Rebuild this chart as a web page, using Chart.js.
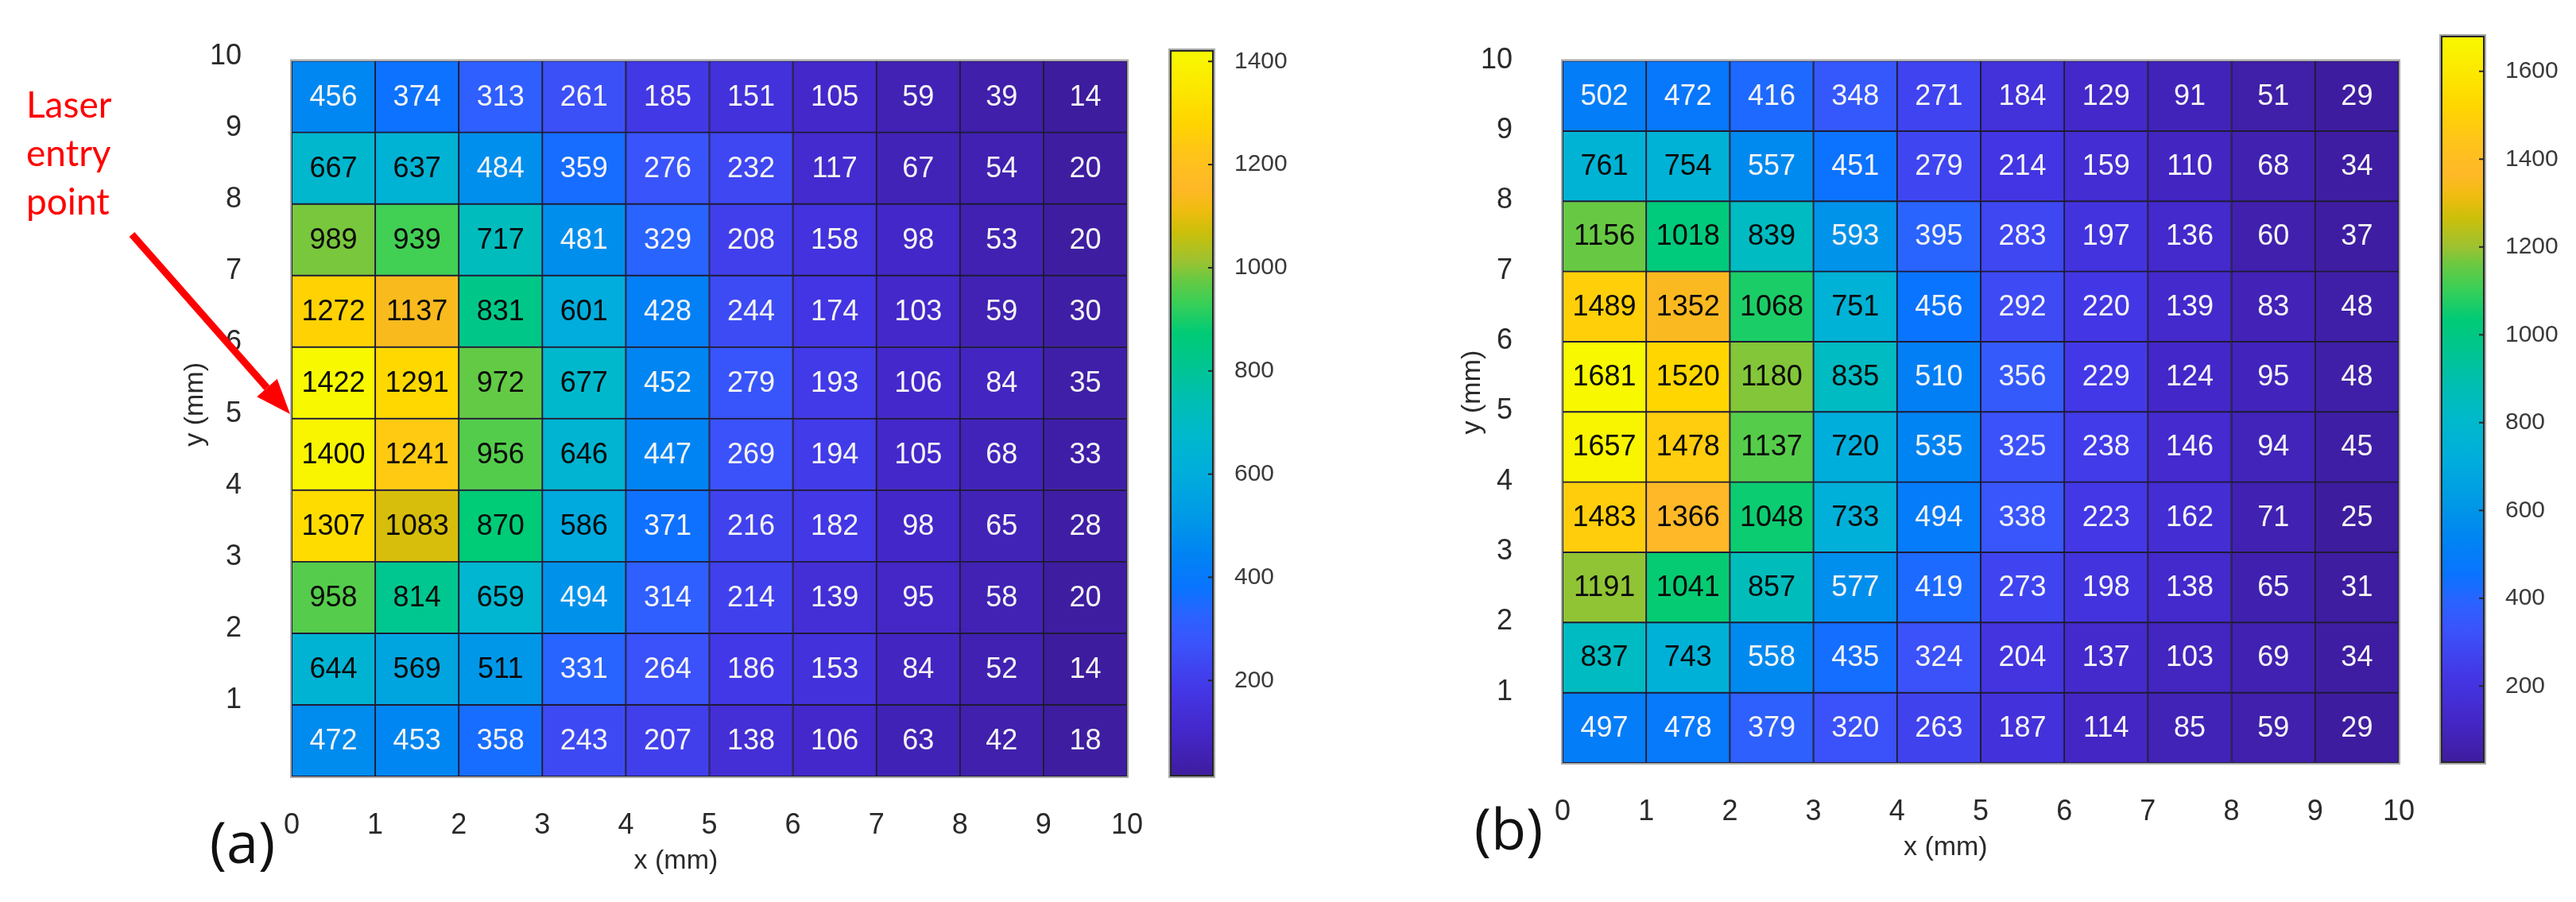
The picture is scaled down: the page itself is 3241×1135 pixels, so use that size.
<!DOCTYPE html>
<html><head><meta charset="utf-8">
<script src="https://cdn.jsdelivr.net/npm/chart.js@4.4.1/dist/chart.umd.min.js"></script>
<style>
html,body{margin:0;padding:0;background:#fff;width:3241px;height:1135px;overflow:hidden;}
canvas{position:absolute;top:0;display:block;}
#chA{left:0px} #cbA{left:1462px} #chB{left:1560px} #cbB{left:3062px}
</style></head><body>
<canvas id="chA" width="1470" height="1135"></canvas>
<canvas id="cbA" width="200" height="1135"></canvas>
<canvas id="chB" width="1510" height="1135"></canvas>
<canvas id="cbB" width="179" height="1135"></canvas>
<script>
// ---------- data ----------
const xTickValues = [0,1,2,3,4,5,6,7,8,9,10];
const yTickValues = [0,1,2,3,4,5,6,7,8,9,10];
// cell values, rows listed from top (y 9-10 mm) to bottom (y 0-1 mm), columns x 0-1 ... 9-10 mm
const valuesA = [
  [456,374,313,261,185,151,105,59,39,14],
  [667,637,484,359,276,232,117,67,54,20],
  [989,939,717,481,329,208,158,98,53,20],
  [1272,1137,831,601,428,244,174,103,59,30],
  [1422,1291,972,677,452,279,193,106,84,35],
  [1400,1241,956,646,447,269,194,105,68,33],
  [1307,1083,870,586,371,216,182,98,65,28],
  [958,814,659,494,314,214,139,95,58,20],
  [644,569,511,331,264,186,153,84,52,14],
  [472,453,358,243,207,138,106,63,42,18]
];
const valuesB = [
  [502,472,416,348,271,184,129,91,51,29],
  [761,754,557,451,279,214,159,110,68,34],
  [1156,1018,839,593,395,283,197,136,60,37],
  [1489,1352,1068,751,456,292,220,139,83,48],
  [1681,1520,1180,835,510,356,229,124,95,48],
  [1657,1478,1137,720,535,325,238,146,94,45],
  [1483,1366,1048,733,494,338,223,162,71,25],
  [1191,1041,857,577,419,273,198,138,65,31],
  [837,743,558,435,324,204,137,103,69,34],
  [497,478,379,320,263,187,114,85,59,29]
];
const colorbarTicksA = [200,400,600,800,1000,1200,1400];
const colorbarTicksB = [200,400,600,800,1000,1200,1400,1600];
const panelLabels = ['(a)','(b)'];
const axisTitleX = 'x (mm)';
const axisTitleY = 'y (mm)';
const annotationLines = ['Laser','entry','point'];

// ---------- colormap (parula-like, as in the figure) ----------
const cmap = [
  [0.00,'#3E1C9E'],[0.06,'#4427C8'],[0.12,'#4337E6'],[0.18,'#3B52FA'],[0.22,'#2C62FF'],
  [0.26,'#0974FF'],[0.31,'#0085F2'],[0.36,'#009AE6'],[0.42,'#00AEDB'],[0.47,'#00B8CC'],
  [0.52,'#00BFB2'],[0.57,'#00C68E'],[0.61,'#00CB76'],[0.655,'#3ECF55'],[0.685,'#6AC942'],
  [0.71,'#9DC230'],[0.75,'#CCBF0A'],[0.78,'#F0BC10'],[0.81,'#FFB828'],[0.86,'#FFC518'],
  [0.90,'#FFD500'],[0.95,'#FCE800'],[1.00,'#F8F900']
];
function hexRgb(h){return [parseInt(h.slice(1,3),16),parseInt(h.slice(3,5),16),parseInt(h.slice(5,7),16)];}
function cmapColor(t){
  t=Math.max(0,Math.min(1,t));
  for(let i=1;i<cmap.length;i++){
    if(t<=cmap[i][0]){
      const a=cmap[i-1],b=cmap[i];const f=(t-a[0])/(b[0]-a[0]);
      const ca=hexRgb(a[1]),cb=hexRgb(b[1]);
      return 'rgb('+ca.map((v,k)=>Math.round(v+(cb[k]-v)*f)).join(',')+')';
    }
  }
  return cmap[cmap.length-1][1];
}
function rangeOf(rows){const f=rows.flat();return [Math.min(...f),Math.max(...f)];}

const TICK_FONT={family:'"Liberation Sans", Arial, sans-serif',size:36};
const TICK_COLOR='#2a2a2a';

function cellData(rows){
  const out=[];const n=rows.length;
  rows.forEach((row,r)=>row.forEach((v,c)=>{out.push({x:c+0.5,y:[n-1-r,n-r],v:v});}));
  return out;
}

const cellText={
  id:'cellText',
  afterDatasetsDraw(chart){
    const o=chart.options.plugins.cellText;const ctx=chart.ctx;
    const xs=chart.scales.x,ys=chart.scales.y;
    ctx.save();
    ctx.font='36px "Liberation Sans", Arial, sans-serif';
    ctx.textAlign='center';ctx.textBaseline='middle';
    chart.data.datasets[0].data.forEach(d=>{
      const t=(d.v-o.vmin)/(o.vmax-o.vmin);
      ctx.fillStyle=t>0.347?'#0a0a0a':'#f4f4f4';
      ctx.fillText(String(d.v),xs.getPixelForValue(d.x),ys.getPixelForValue((d.y[0]+d.y[1])/2)+1);
    });
    const a=chart.chartArea;
    ctx.strokeStyle='#a8a8a8';ctx.lineWidth=2;
    ctx.strokeRect(a.left-1,a.top-1,a.right-a.left+2,a.bottom-a.top+2);
    // axis titles and panel label
    ctx.fillStyle=TICK_COLOR;
    ctx.font='34px "Liberation Sans", Arial, sans-serif';
    const w=a.right-a.left,h=a.bottom-a.top;
    ctx.fillText(axisTitleX,a.left+o.xTitle[0]*w,a.bottom+o.xTitle[1]);
    ctx.save();ctx.translate(a.left-o.yTitle[0],a.top+o.yTitle[1]*h);ctx.rotate(-Math.PI/2);
    ctx.fillText(axisTitleY,0,0);ctx.restore();
    ctx.fillStyle='#111';
    ctx.font='72px "Open Sans", sans-serif';
    ctx.fillText(o.panel,a.left-o.panelPos[0],a.bottom+o.panelPos[1]);
    if(o.laser){
      ctx.fillStyle='#FF0000';ctx.textAlign='left';ctx.textBaseline='alphabetic';
      ctx.font='46px Lato, sans-serif';
      annotationLines.forEach((s,i)=>ctx.fillText(s,33,148+i*61));
      // arrow
      const x0=166,y0=295,x1=365,y1=521;
      const ang=Math.atan2(y1-y0,x1-x0);const hl=44,hw=17;
      const bx=x1-hl*Math.cos(ang),by=y1-hl*Math.sin(ang);
      ctx.strokeStyle='#FF0000';ctx.lineWidth=9;ctx.lineCap='butt';
      ctx.beginPath();ctx.moveTo(x0,y0);ctx.lineTo(bx,by);ctx.stroke();
      ctx.beginPath();ctx.moveTo(x1,y1);
      ctx.lineTo(bx+hw*Math.sin(ang),by-hw*Math.cos(ang));
      ctx.lineTo(bx-hw*Math.sin(ang),by+hw*Math.cos(ang));
      ctx.closePath();ctx.fill();
    }
    ctx.restore();
  }
};

function heatmap(id,rows,geom,extra){
  const [vmin,vmax]=rangeOf(rows);
  return new Chart(document.getElementById(id),{
    type:'bar',
    data:{datasets:[{
      data:cellData(rows),
      backgroundColor:c=>cmapColor((c.raw.v-vmin)/(vmax-vmin)),
      borderColor:'#1f1b36',borderWidth:1.3,borderSkipped:false,
      barPercentage:1,categoryPercentage:1
    }]},
    options:{
      responsive:false,animation:false,devicePixelRatio:1,events:[],
      layout:{padding:{left:0,top:geom.top,right:geom.right,bottom:0}},
      plugins:{legend:{display:false},tooltip:{enabled:false},
        cellText:Object.assign({vmin,vmax},extra)},
      scales:{
        x:{type:'linear',min:0,max:10,offset:false,
           afterBuildTicks:s=>{s.ticks=xTickValues.map(v=>({value:v}));},
           ticks:{padding:32,font:TICK_FONT,color:TICK_COLOR,maxRotation:0,autoSkip:false,callback:v=>String(v)},
           grid:{display:false,offset:false},border:{display:false},
           afterFit:s=>{s.height=geom.xh;}},
        y:{type:'linear',min:0,max:10,
           afterBuildTicks:s=>{s.ticks=yTickValues.map(v=>({value:v}));},
           ticks:{padding:55,labelOffset:geom.yLabelOffset,font:TICK_FONT,color:TICK_COLOR,callback:v=>v===0?'':String(v)},
           grid:{display:false},border:{display:false},
           afterFit:s=>{s.width=geom.yw;}}
      }
    },
    plugins:[cellText]
  });
}

const colorbarDraw={
  id:'colorbarDraw',
  beforeDraw(chart){
    const ys=chart.scales.y,a=chart.chartArea,ctx=chart.ctx;
    const o=chart.options.plugins.colorbarDraw;
    const g=ctx.createLinearGradient(0,ys.getPixelForValue(o.vmin),0,ys.getPixelForValue(o.vmax));
    cmap.forEach(s=>g.addColorStop(s[0],s[1]));
    ctx.save();ctx.fillStyle=g;ctx.fillRect(a.left,a.top,a.right-a.left,a.bottom-a.top);
    ctx.strokeStyle='#a8a8a8';ctx.lineWidth=2;
    ctx.strokeRect(a.left-1,a.top-1,a.right-a.left+2,a.bottom-a.top+2);
    ctx.strokeStyle='#262626';ctx.lineWidth=2;
    ctx.strokeRect(a.left+1,a.top+1,a.right-a.left-2,a.bottom-a.top-2);
    ys.ticks.forEach(t=>{const y=ys.getPixelForValue(t.value);
      ctx.beginPath();ctx.moveTo(a.right-7,y);ctx.lineTo(a.right,y);ctx.stroke();});
    ctx.restore();
  }
};

function colorbar(id,rows,tickList,geom){
  const [vmin,vmax]=rangeOf(rows);
  return new Chart(document.getElementById(id),{
    type:'bar',data:{datasets:[]},
    options:{
      responsive:false,animation:false,devicePixelRatio:1,events:[],
      layout:{padding:{left:geom.left,top:geom.top,right:0,bottom:geom.bottom}},
      plugins:{legend:{display:false},tooltip:{enabled:false},colorbarDraw:{vmin,vmax}},
      scales:{
        x:{type:'linear',display:false},
        y:{type:'linear',position:'right',min:vmin,max:vmax,
           afterBuildTicks:s=>{s.ticks=tickList.map(v=>({value:v}));},
           ticks:{padding:18,font:{family:'"Liberation Sans", Arial, sans-serif',size:30},color:'#3a3a3a',callback:v=>String(v)},
           grid:{display:false},border:{display:false},
           afterFit:s=>{s.width=geom.yw;}}
      }
    },
    plugins:[colorbarDraw]
  });
}

heatmap('chA',valuesA,{top:63,right:28,xh:158,yw:367,yLabelOffset:-6},
  {panel:panelLabels[0],xTitle:[0.46,107],yTitle:[121,0.48],panelPos:[62,88],laser:true});
colorbar('cbA',valuesA,colorbarTicksA,{left:10,top:63,bottom:158,yw:135});
heatmap('chB',valuesB,{top:45,right:29,xh:175,yw:406,yLabelOffset:-1},
  {panel:panelLabels[1],xTitle:[0.458,107],yTitle:[113,0.472],panelPos:[68,88],laser:false});
colorbar('cbB',valuesB,colorbarTicksB,{left:9,top:45,bottom:175,yw:115});
</script>
</body></html>
